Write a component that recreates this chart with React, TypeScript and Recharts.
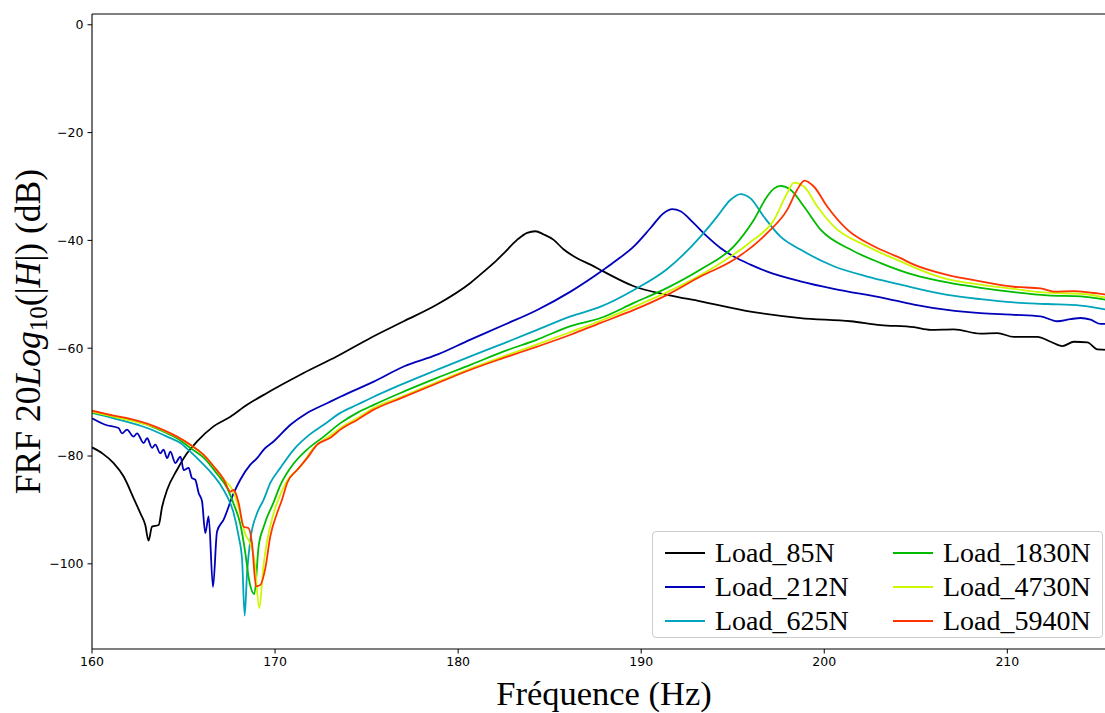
import React from 'react';
import { LineChart, Line, XAxis, YAxis, ReferenceLine, Legend, Label } from 'recharts';

type Pt = [number, number];

const load85: Pt[] = [
  [160.0, -78.4], [160.6, -79.6], [161.18, -81.3], [161.73, -83.8], [162.27, -87.8], [162.64, -90.6],
  [162.91, -92.8], [163.09, -95.7], [163.28, -93.1], [163.64, -92.8], [163.83, -89.4], [164.1, -86.3],
  [164.64, -82.6], [165.19, -79.5], [165.74, -77.3], [166.64, -74.5], [167.56, -72.7], [168.47, -70.5],
  [169.56, -68.3], [170.84, -65.9], [171.56, -64.6], [173.39, -61.5], [175.21, -58.1], [177.03, -55.0],
  [178.85, -51.9], [180.67, -47.9], [181.4, -45.8], [182.13, -43.6], [182.49, -42.4], [183.22, -39.9],
  [183.77, -38.6], [184.22, -38.3], [184.68, -38.9], [185.22, -39.9], [185.77, -41.7], [186.5, -43.3],
  [187.23, -44.5], [187.96, -45.8], [189.6, -48.5], [191.42, -50.1], [193.24, -51.3], [195.97, -53.2],
  [198.7, -54.4], [201.44, -55.0], [203.08, -55.7], [204.9, -56.1], [205.81, -56.6], [207.08, -56.5],
  [208.54, -57.3], [209.45, -57.2], [210.36, -57.9], [211.64, -57.9], [212.37, -58.8], [213.01, -59.6],
  [213.64, -58.8], [214.37, -58.9], [214.92, -60.2], [215.5, -60.3],
];

const load212: Pt[] = [
  [160.0, -73.0], [160.73, -74.2], [161.45, -74.8], [161.64, -75.8], [161.91, -75.1], [162.27, -76.4],
  [162.46, -75.8], [162.82, -77.6], [163.01, -76.7], [163.28, -78.5], [163.46, -77.9], [163.73, -79.5],
  [163.91, -78.8], [164.1, -80.4], [164.28, -79.2], [164.55, -81.3], [164.83, -80.1], [165.01, -82.6],
  [165.28, -82.2], [165.46, -84.1], [165.64, -84.4], [165.83, -86.9], [166.01, -88.4], [166.19, -94.3],
  [166.37, -91.2], [166.61, -104.3], [166.83, -94.0], [167.19, -91.8], [167.74, -86.9], [168.1, -84.4],
  [168.65, -81.6], [169.02, -80.4], [169.38, -78.8], [169.92, -77.3], [170.84, -74.2], [171.75, -72.0],
  [172.84, -70.2], [173.57, -69.0], [175.39, -66.2], [177.03, -63.4], [178.85, -61.2], [180.67, -58.4],
  [182.49, -55.7], [184.32, -52.9], [186.14, -49.5], [187.96, -45.4], [188.69, -43.6], [189.6, -41.1],
  [190.51, -37.7], [191.24, -34.9], [191.69, -34.2], [192.15, -34.6], [192.87, -36.8], [193.61, -39.3],
  [194.33, -41.4], [195.06, -43.0], [195.97, -44.5], [196.89, -45.8], [198.7, -47.6], [200.52, -49.0],
  [203.26, -50.7], [204.9, -51.9], [206.72, -52.9], [208.54, -53.5], [210.36, -53.8], [211.82, -54.1],
  [212.73, -55.0], [213.46, -54.6], [214.01, -54.4], [214.55, -54.7], [215.1, -55.5], [215.5, -55.5],
];

const load625: Pt[] = [
  [160.0, -72.0], [161.18, -73.0], [163.01, -74.8], [164.1, -76.4], [164.83, -77.6], [165.37, -79.2],
  [165.92, -81.0], [166.46, -82.9], [167.01, -85.3], [167.38, -87.5], [167.74, -90.6], [168.01, -94.9],
  [168.2, -99.3], [168.34, -109.6], [168.47, -101.7], [168.65, -95.5], [169.02, -90.6], [169.38, -88.1],
  [169.74, -85.0], [170.29, -82.2], [171.02, -78.8], [171.75, -76.4], [172.66, -74.2], [173.57, -72.0],
  [174.48, -70.5], [175.39, -69.0], [176.85, -66.8], [178.85, -64.0], [180.67, -61.5], [182.49, -59.1],
  [184.32, -56.6], [186.14, -54.1], [187.78, -52.3], [189.6, -49.2], [191.42, -45.3], [193.24, -39.3],
  [194.15, -35.6], [194.87, -32.5], [195.42, -31.4], [195.97, -32.2], [196.7, -35.6], [197.61, -39.3],
  [198.7, -41.7], [200.52, -44.8], [202.35, -46.7], [204.17, -48.2], [204.9, -48.8], [206.72, -50.1],
  [208.54, -50.9], [210.36, -51.5], [212.19, -51.8], [214.01, -52.1], [215.5, -52.9],
];

const load1830: Pt[] = [
  [160.0, -71.9], [161.18, -72.7], [162.09, -73.3], [163.01, -74.2], [163.91, -75.5], [164.64, -76.7],
  [165.37, -78.5], [166.1, -80.3], [166.83, -83.3], [167.38, -85.9], [167.74, -88.9], [168.1, -92.6],
  [168.38, -98.1], [168.56, -102.6], [168.87, -105.6], [169.1, -96.8], [169.38, -93.1], [169.92, -88.6],
  [170.29, -85.4], [170.84, -82.2], [171.75, -78.8], [172.66, -76.4], [173.57, -73.9], [174.48, -72.0],
  [175.39, -70.5], [176.85, -68.3], [178.85, -65.5], [180.67, -63.1], [182.49, -60.6], [184.32, -58.4],
  [186.14, -55.9], [187.78, -54.4], [189.6, -51.6], [191.42, -48.8], [193.24, -45.4], [195.06, -41.1],
  [196.15, -36.2], [196.89, -31.8], [197.25, -30.4], [197.61, -29.9], [198.16, -30.6], [198.89, -33.7],
  [199.8, -38.0], [201.44, -41.7], [203.08, -44.2], [204.9, -46.4], [206.72, -47.8], [208.54, -48.8],
  [210.36, -49.6], [212.19, -50.2], [214.01, -50.4], [215.5, -51.1],
];

const load4730: Pt[] = [
  [160.0, -71.8], [161.18, -72.7], [163.01, -74.2], [163.91, -75.3], [165.37, -77.9], [166.1, -79.8],
  [166.64, -81.9], [167.19, -84.3], [167.74, -86.7], [168.1, -90.8], [168.38, -94.5], [168.65, -96.3],
  [168.87, -99.2], [169.14, -108.2], [169.36, -100.5], [169.58, -95.5], [169.85, -91.5], [170.13, -88.5],
  [170.66, -84.6], [171.38, -82.0], [172.11, -78.5], [173.02, -76.2], [173.57, -74.8], [174.48, -73.0],
  [175.39, -71.1], [176.85, -69.1], [178.85, -66.3], [180.67, -63.8], [182.49, -61.5], [184.32, -59.3],
  [186.14, -57.0], [187.78, -54.9], [190.51, -51.0], [191.42, -49.6], [194.15, -44.6], [195.97, -40.3],
  [197.25, -36.2], [197.98, -31.2], [198.34, -29.3], [198.89, -30.0], [199.62, -33.7], [200.52, -37.4],
  [202.35, -41.1], [204.17, -43.9], [204.9, -45.0], [206.72, -47.2], [208.54, -48.2], [210.36, -49.0],
  [212.19, -49.7], [214.01, -49.9], [215.5, -50.7],
];

const load5940: Pt[] = [
  [160.0, -71.6], [161.18, -72.5], [162.09, -73.1], [163.01, -74.0], [163.91, -75.2], [164.64, -76.4],
  [165.37, -77.9], [166.1, -79.8], [166.64, -81.9], [167.19, -84.3], [167.56, -86.6], [167.74, -86.3],
  [168.01, -88.7], [168.28, -93.1], [168.56, -93.4], [168.74, -96.2], [168.96, -104.2], [169.2, -103.9],
  [169.47, -100.8], [169.74, -94.9], [170.11, -90.6], [170.38, -88.1], [170.66, -85.0], [171.2, -82.6],
  [171.75, -80.4], [172.3, -77.9], [173.02, -76.6], [173.57, -75.1], [174.48, -73.3], [175.39, -71.4],
  [176.85, -69.3], [178.85, -66.5], [180.67, -64.0], [182.49, -61.8], [184.32, -59.7], [186.14, -57.5],
  [187.78, -55.3], [189.6, -52.9], [191.42, -50.1], [193.24, -46.7], [195.06, -43.6], [196.89, -38.6],
  [197.98, -34.3], [198.52, -30.6], [198.92, -28.9], [199.43, -30.0], [200.16, -33.7], [201.26, -38.0],
  [202.71, -41.1], [204.17, -43.3], [204.9, -44.5], [206.72, -46.4], [208.54, -47.6], [210.36, -48.6],
  [211.82, -48.9], [212.55, -49.5], [213.64, -49.4], [214.55, -49.7], [215.5, -50.1],
];

const SERIES = [
  { name: 'Load_85N', color: '#000000', points: load85 },
  { name: 'Load_212N', color: '#0000bb', points: load212 },
  { name: 'Load_625N', color: '#00a4bb', points: load625 },
  { name: 'Load_1830N', color: '#00bb00', points: load1830 },
  { name: 'Load_4730N', color: '#ccf900', points: load4730 },
  { name: 'Load_5940N', color: '#ff3300', points: load5940 },
];

const xTicks = [160, 170, 180, 190, 200, 210];
const yTicks = [-100, -80, -60, -40, -20, 0];
const xDomain: [number, number] = [160, 215.5];
const yDomain: [number, number] = [-115.8, 2];

const fmt = (v: number) => (v < 0 ? '\u2212' + Math.abs(v) : String(v));

const tickStyle = { fontFamily: '"DejaVu Sans", sans-serif', fontSize: 12.5, fill: '#000' };

const YLabel = (props: any) => {
  const vb = props.viewBox || { x: 0, y: 14, width: 92, height: 635 };
  const cx = 40;
  const cy = vb.y + vb.height / 2;
  return (
    <text
      x={cx}
      y={cy}
      transform={`rotate(-90, ${cx}, ${cy})`}
      textAnchor="middle"
      fontFamily='"Liberation Serif", serif'
      fontSize={35.5}
      fill="#000"
    >
      FRF 20<tspan fontStyle="italic">Log</tspan>
      <tspan fontSize={25} dy={7}>10</tspan>
      <tspan dy={-7}>(|</tspan>
      <tspan fontStyle="italic">H</tspan>|) (dB)
    </text>
  );
};

const XLabel = () => (
  <text x={604} y={705} textAnchor="middle" fontFamily='"Liberation Serif", serif' fontSize={34.5} fill="#000">
    Fréquence (Hz)
  </text>
);

const LegendBox = () => (
  <div
    style={{
      position: 'relative',
      width: 451,
      height: 107,
      boxSizing: 'border-box',
      border: '1px solid #cccccc',
      borderRadius: 4,
      background: 'rgba(255,255,255,0.85)',
    }}
  >
    {SERIES.map((s, i) => {
      const col = Math.floor(i / 3);
      const row = i % 3;
      return (
        <div
          key={s.name}
          style={{
            position: 'absolute',
            left: 12 + col * 228,
            top: 4 + row * 34,
            height: 34,
            display: 'flex',
            alignItems: 'center',
          }}
        >
          <div style={{ width: 40, height: 0, borderTop: `2px solid ${s.color}` }} />
          <span
            style={{
              marginLeft: 10,
              fontFamily: '"Liberation Serif", serif',
              fontSize: 28,
              lineHeight: '34px',
              color: '#000',
              whiteSpace: 'nowrap',
            }}
          >
            {s.name}
          </span>
        </div>
      );
    })}
  </div>
);

export default function App() {
  return (
    <div style={{ position: 'absolute', left: 0, top: 0, width: 1116, height: 713, background: '#fff' }}>
      <LineChart width={1116} height={713} margin={{ top: 14, right: 8, bottom: 0, left: 0 }}>
        <XAxis
          dataKey="f"
          type="number"
          domain={xDomain}
          ticks={xTicks}
          allowDataOverflow
          height={64}
          tick={tickStyle}
          tickSize={4.5}
          tickMargin={4}
          axisLine={{ stroke: '#000', strokeWidth: 1.1 }}
          tickLine={{ stroke: '#000' }}
        >
          <Label content={XLabel} />
        </XAxis>
        <YAxis
          type="number"
          domain={yDomain}
          ticks={yTicks}
          allowDataOverflow
          width={92}
          tickFormatter={fmt}
          tick={tickStyle}
          tickSize={4.5}
          tickMargin={4}
          axisLine={{ stroke: '#000', strokeWidth: 1.1 }}
          tickLine={{ stroke: '#000' }}
        >
          <Label content={YLabel} />
        </YAxis>
        <ReferenceLine y={2} stroke="#000" strokeWidth={1.1} ifOverflow="visible" />
        {SERIES.map((s) => (
          <Line
            key={s.name}
            name={s.name}
            data={s.points.map(([f, v]) => ({ f, v }))}
            dataKey="v"
            type="monotone"
            stroke={s.color}
            strokeWidth={1.8}
            dot={false}
            activeDot={false}
            isAnimationActive={false}
          />
        ))}
        <Legend
          layout="vertical"
          align="center"
          verticalAlign="middle"
          content={LegendBox}
          wrapperStyle={{ left: 652, top: 531, width: 451, height: 107 }}
        />
      </LineChart>
    </div>
  );
}
